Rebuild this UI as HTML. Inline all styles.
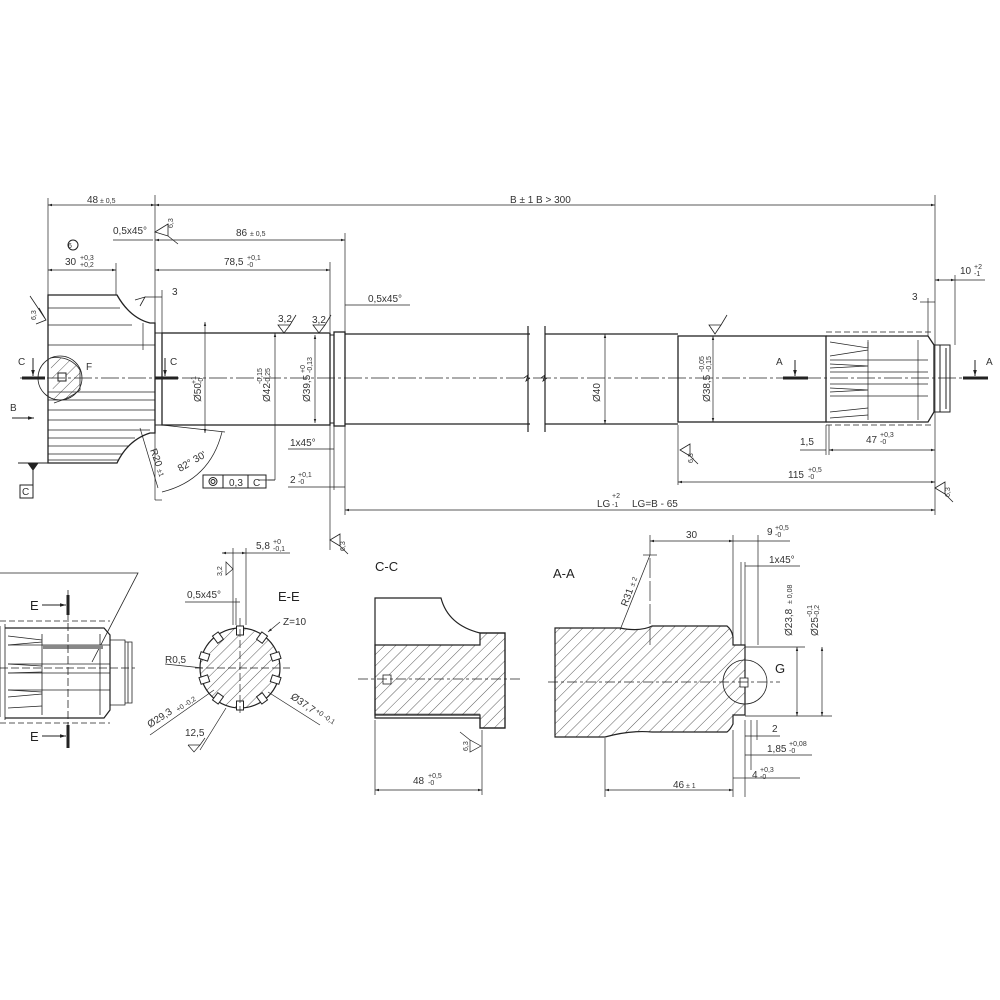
<!DOCTYPE html>
<html><head><meta charset="utf-8"><style>
html,body{margin:0;padding:0;background:#fff}
svg{display:block}
text{font-family:"Liberation Sans",sans-serif;fill:#333}
.t{font-size:10px}
.s{font-size:7px}
.l{font-size:13px;fill:#222}
</style></head><body>
<svg width="1000" height="1000" viewBox="0 0 1000 1000" xmlns="http://www.w3.org/2000/svg">
<defs>
<pattern id="h" width="8" height="8" patternUnits="userSpaceOnUse" patternTransform="rotate(45)">
<line x1="0" y1="0" x2="0" y2="8" stroke="#333" stroke-width="0.8"/></pattern>
<marker id="a" viewBox="0 0 10 10" refX="10" refY="5" markerWidth="6" markerHeight="6" orient="auto-start-reverse"><path d="M0,2 L10,5 L0,8 z" fill="#222"/></marker>
</defs>
<g stroke="#222" fill="none" stroke-width="1">
<!-- ===== MAIN SHAFT ===== -->
<path d="M48,295 H117 Q130,318 150,323 L155,323 V433 L150,433 Q128,440 117,463 H48 Z" stroke-width="1.3"/>
<g stroke-width="0.7">
<line x1="48" y1="308" x2="120" y2="308"/><line x1="48" y1="325" x2="132" y2="325"/>
<line x1="48" y1="345" x2="155" y2="345"/><line x1="48" y1="392" x2="155" y2="392"/>
<line x1="48" y1="400" x2="155" y2="400"/><line x1="48" y1="410" x2="155" y2="410"/>
<line x1="48" y1="420" x2="155" y2="420"/><line x1="48" y1="430" x2="150" y2="430"/>
<line x1="48" y1="438" x2="135" y2="438"/><line x1="48" y1="446" x2="128" y2="446"/>
<line x1="48" y1="454" x2="122" y2="454"/><line x1="48" y1="460" x2="119" y2="460"/>
<line x1="143" y1="323" x2="143" y2="350"/>
</g>
<circle cx="60" cy="378" r="22" stroke-width="0.8"/>
<path d="M50,358 Q70,355 80,370 L80,390 Q70,398 54,403" fill="url(#h)" stroke-width="0.8"/>
<rect x="58" y="373" width="8" height="8" fill="#fff"/>
<path d="M155,333 H162 V425 H155" />
<rect x="162" y="333" width="168" height="92" stroke-width="1.3"/>
<rect x="330" y="335" width="4" height="88"/>
<rect x="334" y="332" width="11" height="94" stroke-width="1.3"/>
<path d="M345,334 H530 M345,424 H530 M545,334 H678 M545,424 H678" stroke-width="1.3"/>
<path d="M528,326 V432 M545,326 V432" stroke-width="1.2"/>
<path d="M524,378 l4,-3 l-2,6 l4,-3 M541,378 l4,-3 l-2,6 l4,-3" stroke-width="0.8"/>
<rect x="678" y="336" width="148" height="86" stroke-width="1.3"/>
<path d="M826,336 H928 L934,345 V412 L928,422 H826" stroke-width="1.3"/>
<path d="M826,332 H934 M826,425 H934" stroke-dasharray="6,3" stroke-width="0.7"/>
<g stroke-width="0.7">
<path d="M830,342 L868,348 V342 M830,356 L868,350"/>
<path d="M830,360 H928 M830,372 H928 M830,384 H928 M830,396 H928"/>
<path d="M830,364 L868,366 M830,368 L868,366 M830,388 L868,390 M830,392 L868,390"/>
<path d="M830,412 L868,408 M830,418 L868,415"/>
<line x1="868" y1="340" x2="868" y2="420"/><line x1="918" y1="340" x2="918" y2="420"/>
</g>
<path d="M934,345 H950 V412 H934 M940,345 V412 M946,348 V409" stroke-width="1"/>
<line x1="20" y1="378" x2="980" y2="378" stroke-dasharray="18,3,3,3" stroke-width="0.7"/>
<g stroke-width="3"><line x1="22" y1="378" x2="45" y2="378"/><line x1="155" y1="378" x2="178" y2="378"/>
<line x1="783" y1="378" x2="808" y2="378"/><line x1="963" y1="378" x2="988" y2="378"/></g>
<g stroke-width="1" marker-end="url(#a)">
<line x1="33" y1="358" x2="33" y2="376"/><line x1="165" y1="358" x2="165" y2="376"/>
<line x1="795" y1="360" x2="795" y2="376"/><line x1="975" y1="360" x2="975" y2="376"/>
<line x1="12" y1="418" x2="34" y2="418"/></g>
<path d="M18,463 H48 M33,463 V485" /><path d="M28,463 L33,470 L38,463Z" fill="#222"/>
<rect x="20" y="485" width="13" height="13"/>
<g stroke-width="0.7">
<line x1="48" y1="198" x2="48" y2="295"/><line x1="155" y1="195" x2="155" y2="500"/>
<line x1="935" y1="195" x2="935" y2="515"/>
<line x1="48" y1="205" x2="155" y2="205" marker-start="url(#a)" marker-end="url(#a)"/>
<line x1="155" y1="205" x2="935" y2="205" marker-start="url(#a)" marker-end="url(#a)"/>
<line x1="155" y1="240" x2="345" y2="240" marker-start="url(#a)" marker-end="url(#a)"/>
<line x1="345" y1="233" x2="345" y2="332"/><line x1="330" y1="262" x2="330" y2="332"/>
<line x1="155" y1="270" x2="330" y2="270" marker-start="url(#a)" marker-end="url(#a)"/>
<line x1="48" y1="270" x2="116" y2="270" marker-start="url(#a)" marker-end="url(#a)"/>
<line x1="116" y1="263" x2="116" y2="295"/>
<line x1="113" y1="240" x2="153" y2="240"/>
<line x1="145" y1="297" x2="162" y2="297"/><line x1="162" y1="290" x2="162" y2="333"/>
<line x1="205" y1="322" x2="205" y2="433" marker-start="url(#a)" marker-end="url(#a)"/>
<line x1="275" y1="333" x2="275" y2="480" marker-start="url(#a)"/>
<line x1="275" y1="480" x2="268" y2="480"/>
<line x1="315" y1="335" x2="315" y2="423" marker-start="url(#a)" marker-end="url(#a)"/>
<line x1="345" y1="305" x2="410" y2="305"/>
<line x1="330" y1="425" x2="330" y2="550"/><line x1="334" y1="425" x2="334" y2="490"/>
<line x1="345" y1="426" x2="345" y2="515"/>
<line x1="288" y1="449" x2="334" y2="449"/><line x1="288" y1="487" x2="345" y2="487"/>
<line x1="605" y1="334" x2="605" y2="424" marker-start="url(#a)" marker-end="url(#a)"/>
<line x1="713" y1="336" x2="713" y2="422" marker-start="url(#a)" marker-end="url(#a)"/>
<line x1="345" y1="510" x2="935" y2="510" marker-start="url(#a)" marker-end="url(#a)"/>
<line x1="678" y1="425" x2="678" y2="485"/>
<line x1="678" y1="482" x2="935" y2="482" marker-start="url(#a)" marker-end="url(#a)"/>
<line x1="826" y1="425" x2="826" y2="455"/><line x1="829" y1="425" x2="829" y2="455"/>
<line x1="800" y1="450" x2="826" y2="450"/>
<line x1="829" y1="450" x2="935" y2="450" marker-start="url(#a)" marker-end="url(#a)"/>
<line x1="920" y1="302" x2="935" y2="302"/><line x1="928" y1="298" x2="928" y2="336"/>
<line x1="935" y1="280" x2="955" y2="280" marker-start="url(#a)" marker-end="url(#a)"/>
<line x1="955" y1="275" x2="955" y2="345"/><line x1="955" y1="280" x2="985" y2="280"/>
<line x1="162" y1="425" x2="225" y2="432"/>
<path d="M162,492 Q210,480 222,432"/>
<line x1="155" y1="500" x2="162" y2="500"/>
<line x1="140" y1="428" x2="158" y2="488"/>
<line x1="258" y1="480" x2="275" y2="480"/>
</g>
<rect x="203" y="475" width="20" height="13"/><rect x="223" y="475" width="25" height="13"/><rect x="248" y="475" width="18" height="13"/>
<circle cx="213" cy="481.5" r="4"/><circle cx="213" cy="481.5" r="2"/>
<circle cx="73" cy="245" r="5"/>
<g stroke-width="0.8">
<path d="M155,232 L168,224 L168,236 Z M168,236 L178,244"/>
<path d="M39,308 L46,320 L36,324 M46,320 L30,296"/>
<path d="M278,325 L284,333 L290,325 Z M290,325 L296,315"/>
<path d="M313,325 L319,333 L325,325 Z M325,325 L331,315"/>
<path d="M709,325 L715,334 L721,325 Z M721,325 L727,315"/>
<path d="M680,450 L690,444 L690,456 Z M690,456 L698,464"/>
<path d="M935,488 L945,482 L945,494 Z M945,494 L953,502"/>
<path d="M330,540 L340,534 L340,546 Z M340,546 L348,554"/>
<path d="M135,300 L145,297 L140,306"/>
</g>
<!-- ===== BOTTOM LEFT partial view ===== -->
<g stroke-width="0.8">
<path d="M0,573 H138 L92,662"/>
<path d="M0,626 V717 M5,624 V720" />
<path d="M5,628 H104 L110,635 V710 L104,718 H5" stroke-width="1.2"/>
<path d="M0,621 H110 M0,723 H110" stroke-dasharray="6,3"/>
<path d="M8,636 L42,640 M8,645 L42,642 M8,664 L42,666 M8,673 L42,672 M8,690 L42,692 M8,697 L42,694 M8,708 L42,706"/>
<path d="M42,634 V715 M8,645 H110 M8,664 H110 M8,673 H110 M8,690 H110 M100,634 V715"/>
<rect x="43" y="645" width="60" height="4" fill="#888" stroke="none"/>
<path d="M110,640 H125 V705 H110 M125,642 H132 V703 H125 M128,642 V703"/>
<line x1="68" y1="590" x2="68" y2="745" stroke-dasharray="8,3"/>
<line x1="0" y1="668" x2="135" y2="668" stroke-dasharray="8,3"/>
</g>
<g stroke-width="3"><line x1="68" y1="595" x2="68" y2="615"/><line x1="68" y1="725" x2="68" y2="748"/></g>
<g stroke-width="1" marker-end="url(#a)"><line x1="42" y1="605" x2="66" y2="605"/><line x1="42" y1="736" x2="66" y2="736"/></g>
<!-- ===== E-E ===== -->
<g transform="translate(240,668)">
<circle r="40" fill="url(#h)" stroke-width="1.2"/>
<g fill="#fff" stroke-width="1">
<rect x="-3.5" y="-42" width="7" height="9"/>
<rect x="-3.5" y="-42" width="7" height="9" transform="rotate(36)"/>
<rect x="-3.5" y="-42" width="7" height="9" transform="rotate(72)"/>
<rect x="-3.5" y="-42" width="7" height="9" transform="rotate(108)"/>
<rect x="-3.5" y="-42" width="7" height="9" transform="rotate(144)"/>
<rect x="-3.5" y="-42" width="7" height="9" transform="rotate(180)"/>
<rect x="-3.5" y="-42" width="7" height="9" transform="rotate(216)"/>
<rect x="-3.5" y="-42" width="7" height="9" transform="rotate(252)"/>
<rect x="-3.5" y="-42" width="7" height="9" transform="rotate(288)"/>
<rect x="-3.5" y="-42" width="7" height="9" transform="rotate(324)"/>
</g>
<circle r="45" fill="#fff" stroke="#fff" stroke-width="6" opacity="0"/>
<line x1="-45" y1="0" x2="50" y2="0" stroke-dasharray="8,3" stroke-width="0.7"/>
<line x1="0" y1="-50" x2="0" y2="45" stroke-dasharray="8,3" stroke-width="0.7"/>
</g>
<g stroke-width="0.7">
<line x1="233" y1="548" x2="233" y2="625"/><line x1="246" y1="548" x2="246" y2="625"/>
<line x1="222" y1="553" x2="246" y2="553" marker-start="url(#a)" marker-end="url(#a)"/>
<line x1="246" y1="553" x2="290" y2="553"/>
<line x1="185" y1="602" x2="240" y2="602"/><line x1="236" y1="598" x2="236" y2="625"/>
<path d="M226,575 L233,569 L226,562 Z"/>
<line x1="280" y1="622" x2="268" y2="632" marker-end="url(#a)"/>
<line x1="165" y1="664" x2="203" y2="668"/>
<line x1="150" y1="735" x2="214" y2="690"/>
<line x1="320" y1="725" x2="268" y2="692"/>
<path d="M188,745 L194,752 L200,745 H188 M200,745 L205,738 M200,750 L226,708"/>
</g>
<!-- ===== C-C ===== -->
<g stroke-width="1.2">
<path d="M375,598 H441 Q448,625 480,633 H505 V728 H480 V718 H375 Z"/>
<path d="M375,645 H480 V633 H505 V728 H480 V715 H375 Z" fill="url(#h)"/>
<line x1="375" y1="714" x2="480" y2="714" stroke-width="0.6"/>
<rect x="383" y="675" width="8" height="9" fill="#fff" stroke-width="0.8"/>
</g>
<line x1="358" y1="679" x2="520" y2="679" stroke-dasharray="10,3,3,3" stroke-width="0.7"/>
<g stroke-width="0.7">
<line x1="375" y1="720" x2="375" y2="795"/><line x1="482" y1="730" x2="482" y2="795"/>
<line x1="375" y1="790" x2="482" y2="790" marker-start="url(#a)" marker-end="url(#a)"/>
<path d="M481,746 L470,740 L470,752 Z M470,740 L460,732"/>
</g>
<!-- ===== A-A ===== -->
<g stroke-width="1.2">
<path d="M555,628 H620 Q640,632 652,626 H727 Q732,630 733,637 V645 H745 V715 H733 V724 Q730,730 727,732 H652 Q630,730 605,737 H555 Z" fill="url(#h)"/>
<circle cx="745" cy="682" r="22" stroke-width="0.8"/>
<rect x="740" y="678" width="8" height="9" fill="#fff" stroke-width="0.8"/>
</g>
<line x1="548" y1="682" x2="780" y2="682" stroke-dasharray="10,3,3,3" stroke-width="0.7"/>
<g stroke-width="0.7">
<line x1="650" y1="535" x2="650" y2="645" stroke-dasharray="20,3"/>
<line x1="643" y1="555" x2="657" y2="555"/>
<line x1="650" y1="555" x2="620" y2="630"/>
<line x1="650" y1="541" x2="733" y2="541" marker-start="url(#a)" marker-end="url(#a)"/>
<line x1="733" y1="535" x2="733" y2="645"/><line x1="758" y1="535" x2="758" y2="645"/>
<line x1="733" y1="541" x2="790" y2="541"/>
<line x1="745" y1="566" x2="800" y2="566"/><line x1="741" y1="562" x2="741" y2="645"/><line x1="745" y1="562" x2="745" y2="645"/>
<line x1="745" y1="647" x2="805" y2="647"/><line x1="745" y1="716" x2="832" y2="716"/>
<line x1="797" y1="647" x2="797" y2="716" marker-start="url(#a)" marker-end="url(#a)"/>
<line x1="822" y1="647" x2="822" y2="716" marker-start="url(#a)" marker-end="url(#a)"/>
<line x1="605" y1="738" x2="605" y2="797"/><line x1="733" y1="730" x2="733" y2="797"/>
<line x1="605" y1="790" x2="733" y2="790" marker-start="url(#a)" marker-end="url(#a)"/>
<line x1="745" y1="720" x2="745" y2="797"/>
<line x1="733" y1="778" x2="745" y2="778"/><line x1="745" y1="778" x2="800" y2="778"/>
<line x1="751" y1="720" x2="751" y2="770"/><line x1="757" y1="720" x2="757" y2="740"/>
<line x1="745" y1="736" x2="780" y2="736"/>
<line x1="745" y1="755" x2="812" y2="755"/>
</g>
</g>
<!-- ===== TEXT ===== -->
<text class="t" x="87" y="203">48</text><text class="s" x="100" y="203">± 0,5</text>
<text class="t" x="510" y="203">B ± 1   B &gt; 300</text>
<text class="t" x="113" y="234" fill="#2a6060">0,5x45°</text>
<text class="s" x="173" y="228" transform="rotate(-90 173 228)">6,3</text>
<text class="t" x="236" y="236">86</text><text class="s" x="250" y="236">± 0,5</text>
<text class="s" x="70" y="248" text-anchor="middle" font-size="8">6</text>
<text class="t" x="65" y="265">30</text><text class="s" x="80" y="260">+0,3</text><text class="s" x="80" y="267">+0,2</text>
<text class="t" x="224" y="265">78,5</text><text class="s" x="247" y="260">+0,1</text><text class="s" x="247" y="267">-0</text>
<text class="t" x="172" y="295">3</text>
<text class="s" x="36" y="320" transform="rotate(-90 36 320)">6,3</text>
<text class="t" x="278" y="322">3,2</text><text class="t" x="312" y="323">3,2</text>
<text class="t" x="368" y="302" fill="#2a6060">0,5x45°</text>
<text class="t" x="18" y="365">C</text><text class="t" x="170" y="365">C</text>
<text class="t" x="86" y="370">F</text>
<text class="t" x="10" y="411">B</text>
<text class="t" x="22" y="495">C</text>
<text class="t" x="201" y="402" transform="rotate(-90 201 402)">Ø50</text><text class="s" x="196" y="384" transform="rotate(-90 196 384)">+1</text><text class="s" x="203" y="384" transform="rotate(-90 203 384)">-0</text>
<text class="t" x="270" y="402" transform="rotate(-90 270 402)">Ø42</text><text class="s" x="262" y="384" transform="rotate(-90 262 384)">-0,15</text><text class="s" x="270" y="384" transform="rotate(-90 270 384)">-0,25</text>
<text class="t" x="310" y="402" transform="rotate(-90 310 402)">Ø39,5</text><text class="s" x="305" y="373" transform="rotate(-90 305 373)">+0</text><text class="s" x="312" y="373" transform="rotate(-90 312 373)">-0,13</text>
<text class="t" x="600" y="402" transform="rotate(-90 600 402)">Ø40</text>
<text class="t" x="710" y="402" transform="rotate(-90 710 402)">Ø38,5</text><text class="s" x="704" y="372" transform="rotate(-90 704 372)">-0,05</text><text class="s" x="711" y="372" transform="rotate(-90 711 372)">-0,15</text>
<text class="t" x="776" y="365">A</text><text class="t" x="986" y="365">A</text>
<text class="t" x="290" y="446">1x45°</text>
<text class="t" x="290" y="483">2</text><text class="s" x="298" y="477">+0,1</text><text class="s" x="298" y="484">-0</text>
<text class="t" x="150" y="450" transform="rotate(70 150 450)">R20</text><text class="s" x="157" y="470" transform="rotate(70 157 470)">±1</text>
<text class="t" x="180" y="472" transform="rotate(-30 180 472)">82° 30'</text>
<text class="t" x="229" y="486">0,3</text><text class="t" x="253" y="486">C</text>
<text class="s" x="693" y="463" transform="rotate(-90 693 463)">6,3</text>
<text class="t" x="800" y="445">1,5</text>
<text class="t" x="866" y="443">47</text><text class="s" x="880" y="437">+0,3</text><text class="s" x="880" y="444">-0</text>
<text class="t" x="788" y="478">115</text><text class="s" x="808" y="472">+0,5</text><text class="s" x="808" y="479">-0</text>
<text class="t" x="597" y="507">LG</text><text class="s" x="612" y="498">+2</text><text class="s" x="612" y="507">-1</text><text class="t" x="632" y="507">LG=B - 65</text>
<text class="s" x="950" y="497" transform="rotate(-90 950 497)">6,3</text>
<text class="t" x="912" y="300">3</text>
<text class="t" x="960" y="274">10</text><text class="s" x="974" y="269">+2</text><text class="s" x="974" y="276">-1</text>
<text class="s" x="345" y="551" transform="rotate(-90 345 551)">6,3</text>
<text class="l" x="30" y="610">E</text><text class="l" x="30" y="741">E</text>
<text class="t" x="256" y="549">5,8</text><text class="s" x="273" y="544">+0</text><text class="s" x="273" y="551">-0,1</text>
<text class="s" x="222" y="576" transform="rotate(-90 222 576)">3,2</text>
<text class="t" x="187" y="598">0,5x45°</text>
<text class="l" x="278" y="601">E-E</text>
<text class="t" x="283" y="625">Z=10</text>
<text class="t" x="165" y="663">R0,5</text>
<text class="t" x="150" y="728" transform="rotate(-33 150 728)">Ø29,3</text><text class="s" x="178" y="712" transform="rotate(-33 178 712)">+0 -0,2</text>
<text class="t" x="290" y="698" transform="rotate(35 290 698)">Ø37,7</text><text class="s" x="315" y="712" transform="rotate(35 315 712)">+0 -0,1</text>
<text class="t" x="185" y="736">12,5</text>
<text class="l" x="375" y="571">C-C</text>
<text class="s" x="468" y="751" transform="rotate(-90 468 751)">6,3</text>
<text class="t" x="413" y="784">48</text><text class="s" x="428" y="778">+0,5</text><text class="s" x="428" y="785">-0</text>
<text class="l" x="553" y="578">A-A</text>
<text class="t" x="686" y="538">30</text>
<text class="t" x="767" y="535">9</text><text class="s" x="775" y="530">+0,5</text><text class="s" x="775" y="537">-0</text>
<text class="t" x="769" y="563">1x45°</text>
<text class="t" x="627" y="607" transform="rotate(-70 627 607)">R31</text><text class="s" x="634" y="587" transform="rotate(-70 634 587)">± 2</text>
<text class="t" x="792" y="636" transform="rotate(-90 792 636)">Ø23,8</text><text class="s" x="792" y="604" transform="rotate(-90 792 604)">± 0,08</text>
<text class="t" x="818" y="636" transform="rotate(-90 818 636)">Ø25</text><text class="s" x="812" y="617" transform="rotate(-90 812 617)">-0,1</text><text class="s" x="819" y="617" transform="rotate(-90 819 617)">-0,2</text>
<text class="l" x="775" y="673">G</text>
<text class="t" x="772" y="732">2</text>
<text class="t" x="767" y="752">1,85</text><text class="s" x="789" y="746">+0,08</text><text class="s" x="789" y="753">-0</text>
<text class="t" x="673" y="788">46</text><text class="s" x="686" y="788">± 1</text>
<text class="t" x="752" y="778">4</text><text class="s" x="760" y="772">+0,3</text><text class="s" x="760" y="779">-0</text>
</svg>
</body></html>
